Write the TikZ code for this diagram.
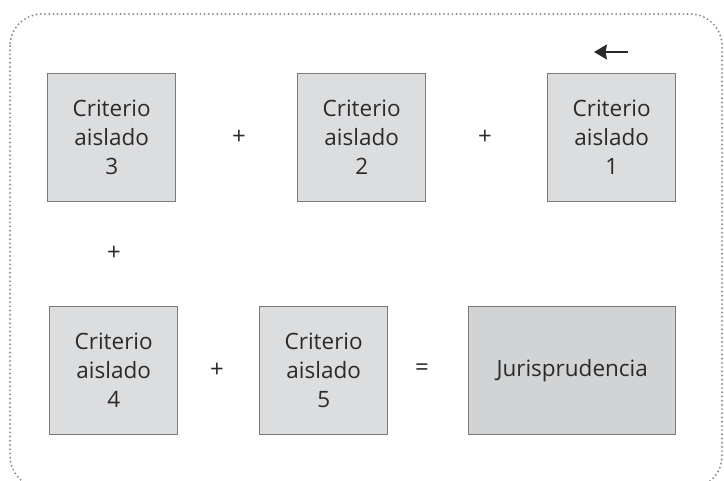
\documentclass[tikz,border=0pt]{standalone}
\usepackage{fontspec}
\setmainfont{Open Sans}
\usetikzlibrary{arrows.meta}
\definecolor{boxfill}{HTML}{DCDDDF}
\definecolor{jurfill}{HTML}{D2D3D5}
\definecolor{boxline}{HTML}{7A7A7A}
\definecolor{txt}{HTML}{2A2A2A}
\definecolor{dotcol}{HTML}{8F8F8F}
\tikzset{
  crit/.style={draw=boxline, line width=1.4pt, fill=boxfill, minimum width=128pt, minimum height=128pt, inner sep=0pt, align=center, font=\fontsize{22.5}{29}\selectfont, text=txt, anchor=north west},
  jur/.style={crit, fill=jurfill, minimum width=207pt},
  op/.style={font=\fontsize{24}{28}\selectfont, text=txt, inner sep=0pt},
  frame/.style={draw=dotcol, line width=2.2pt, dash pattern=on 0pt off 4.2pt, line cap=round, rounded corners=32pt}
}
\begin{document}
\begin{tikzpicture}[x=1pt,y=-1pt]
\useasboundingbox (0,0) rectangle (724,481);
\begin{scope}
\clip (0,0) rectangle (724,481);
\draw[frame] (10,14) rectangle (722,488);
\end{scope}
\node[crit] (c3) at (47,73) {Criterio\\aislado\\3};
\node[crit] (c2) at (297,73) {Criterio\\aislado\\2};
\node[crit] (c1) at (547,73) {Criterio\\aislado\\1};
\node[crit] (c4) at (49,306) {Criterio\\aislado\\4};
\node[crit] (c5) at (259,306) {Criterio\\aislado\\5};
\node[jur] (j) at (468,306) {Jurisprudencia};
\node[op] (p1) at (239,137) {+};
\node[op] (p2) at (485,137) {+};
\node[op] (p3) at (114,253) {+};
\node[op] (p4) at (217,370) {+};
\node[op] (eq) at (422,370) {=};
\coordinate (at) at (628,52);
\coordinate (ah) at (594,52);
\draw[txt, line width=1.5pt, -{Stealth[length=13pt,width=15pt,inset=1.5pt]}] (at) -- (ah);
\end{tikzpicture}
\end{document}
